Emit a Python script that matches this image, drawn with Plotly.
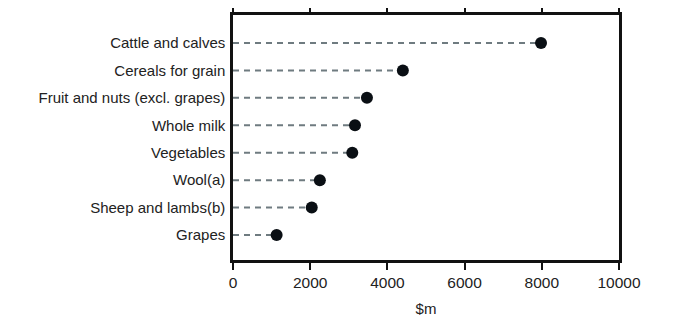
import plotly.graph_objects as go

categories = ["Cattle and calves", "Cereals for grain", "Fruit and nuts (excl. grapes)",
              "Whole milk", "Vegetables", "Wool(a)", "Sheep and lambs(b)", "Grapes"]
values = [7980, 4400, 3470, 3160, 3090, 2250, 2040, 1130]
x_ticks = [0, 2000, 4000, 6000, 8000, 10000]
x_tick_labels = ["0", "2000", "4000", "6000", "8000", "10000"]

font_family = "Liberation Sans Narrow, Arial Narrow, sans-serif"

lx, ly = [], []
for c, v in zip(categories, values):
    lx += [0, v, None]
    ly += [c, c, None]

fig = go.Figure()
fig.add_trace(go.Scatter(x=lx, y=ly, mode="lines",
                         line=dict(color="#6f7b80", width=2, dash="6px,5px"),
                         hoverinfo="skip", showlegend=False))
fig.add_trace(go.Scatter(x=values, y=categories, mode="markers",
                         marker=dict(color="#0a0f14", size=12, line=dict(width=0)),
                         showlegend=False))

fig.update_layout(
    width=669, height=311,
    margin=dict(l=225, r=58, t=7, b=59, autoexpand=False),
    plot_bgcolor="white", paper_bgcolor="white",
    font=dict(family=font_family, size=15, color="#222222"),
    xaxis=dict(range=[0, 10000], tickvals=x_ticks, ticktext=x_tick_labels,
               showgrid=False, zeroline=False, automargin=False,
               showline=True, linecolor="#111111", linewidth=2.5, mirror="ticks",
               ticks="outside", ticklen=7, tickwidth=2, tickcolor="#111111",
               title=dict(text="$m", standoff=14, font=dict(size=15)),
               tickfont=dict(size=15.5)),
    yaxis=dict(type="category", categoryorder="array", categoryarray=categories[::-1],
               range=[-0.91, 8.02], showgrid=False, zeroline=False, automargin=False,
               showline=True, linecolor="#111111", linewidth=2.5, mirror=True,
               ticks="", ticklabelstandoff=2, tickfont=dict(size=15)),
)

fig.write_html("out.html")
